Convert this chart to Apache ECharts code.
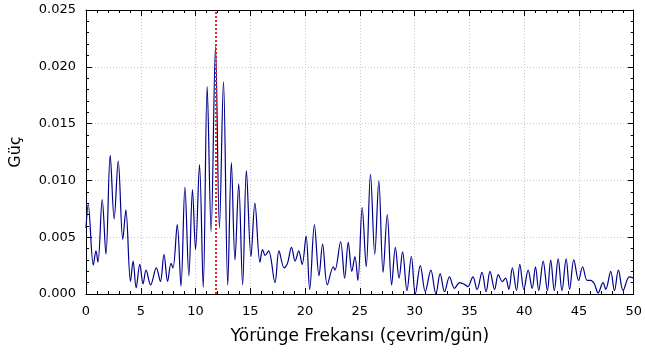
<!DOCTYPE html>
<html>
<head>
<meta charset="utf-8">
<script src="https://cdn.jsdelivr.net/npm/echarts@6/dist/echarts.min.js"></script>
<style>
    html, body { margin: 0; padding: 0; background: #fff; }
    #chart { width: 645px; height: 353px; }
</style>
</head>
<body>
<div id="chart"></div>
<script>
// frekans (çevrim/gün) ve güç değerleri, grafikten okunan tepe/çukur noktaları
const freqs = [
    0, 0.2, 0.67, 0.91, 1.09, 1.48, 1.82, 2.21, 2.57, 2.94, 3.36, 3.64, 4.06, 4.3, 4.58, 4.91,
    5.21, 5.48, 5.9, 6.42, 6.79, 7.12, 7.45, 7.76, 7.94, 8.33, 8.67, 9.03, 9.39, 9.72,
    10.0, 10.36, 10.7, 11.06, 11.42, 11.82, 12.18, 12.55, 12.94, 13.27, 13.6, 13.94, 14.3, 14.64,
    15.06, 15.42, 15.88, 16.12, 16.36, 16.67, 17.25, 17.62, 18.09, 18.39, 18.76, 19.09, 19.42, 19.73,
    20.09, 20.42, 20.85, 21.27, 21.6, 22.03, 22.58, 22.73, 23.24, 23.61, 23.94, 24.27, 24.55, 24.82,
    25.21, 25.58, 25.97, 26.36, 26.73, 27.12, 27.5, 27.9, 28.24, 28.58, 28.9, 29.3, 29.7,
    30.06, 30.52, 30.97, 31.48, 31.94, 32.33, 32.73, 33.18, 33.64, 34.12, 34.55, 34.85, 35.32, 35.7,
    36.15, 36.52, 36.88, 37.3, 37.64, 38.0, 38.3, 38.6, 38.92, 39.3, 39.6, 39.97, 40.36, 40.73,
    41.03, 41.33, 41.73, 42.12, 42.42, 42.75, 43.1, 43.45, 43.83, 44.15, 44.53, 44.97, 45.33, 45.75,
    46.07, 46.4, 46.75, 47.2, 47.45, 47.9, 48.24, 48.6, 49.03, 49.6, 50
];
const powers = [
    0.0058, 0.0079, 0.00255, 0.0038, 0.0028, 0.0083, 0.0035, 0.0122, 0.0066, 0.0117, 0.0048, 0.0074, 0.0011, 0.0029, 0.00055, 0.0026,
    0.0009, 0.0021, 0.0008, 0.0023, 0.0011, 0.0035, 0.0011, 0.0027, 0.0023, 0.0061, 0.0007, 0.0094, 0.0016, 0.0092,
    0.0039, 0.0114, 0.0006, 0.01825, 0.0055, 0.0218, 0.0058, 0.0187, 0.0008, 0.01156, 0.003, 0.0097, 0.0008, 0.01086,
    0.0033, 0.008, 0.0028, 0.0039, 0.0034, 0.0038, 0.001, 0.0038, 0.0023, 0.0027, 0.0041, 0.0029, 0.0038, 0.0026,
    0.0051, 0.0004, 0.0061, 0.0016, 0.0044, 0.0008, 0.0024, 0.0021, 0.0046, 0.0014, 0.00455, 0.002, 0.0033, 0.0012,
    0.0076, 0.0024, 0.01054, 0.0035, 0.00997, 0.0019, 0.007, 0.0008, 0.0041, 0.0014, 0.0037, 0.0003, 0.0033,
    0.0, 0.0025, 0.0002, 0.0021, 0.0, 0.0018, 0.0002, 0.0015, 0.0005, 0.001, 0.00085, 0.00065, 0.0015, 0.0004,
    0.0019, 0.0002, 0.002, 0.0004, 0.0017, 0.0011, 0.0014, 0.0004, 0.0023, 0.0003, 0.0026, 0.0004, 0.0021, 0.0005,
    0.0024, 0.0003, 0.0029, 0.0003, 0.003, 0.0003, 0.0031, 0.0003, 0.0031, 0.0004, 0.003, 0.0012, 0.0024, 0.0012,
    0.0012, 0.0009, 0.0001, 0.001, 0.0004, 0.002, 0.0003, 0.0021, 0.0003, 0.0015, 0.0014
];
const orbitFreq = 11.82; // kırmızı kesikli çizgi

const seriesData = freqs.map((f, i) => [f, powers[i]]);

const myChart = echarts.init(document.getElementById('chart'));

const tickStyle = { lineStyle: { color: '#000', width: 1 } };
// üst ve sağ çerçeve eksenleri (sadece çizgi + içe bakan tikler)
const frameAxis = {
    axisLine: { show: true, onZero: false, lineStyle: { color: '#000', width: 1 } },
    axisTick: { show: true, inside: true, length: 6, lineStyle: { color: '#000', width: 1 } },
    minorTick: { show: true, splitNumber: 5, length: 3, lineStyle: { color: '#000', width: 1 } },
    axisLabel: { show: false },
    splitLine: { show: false }
};

const option = {
    animation: false,
    textStyle: { fontFamily: 'DejaVu Sans' },
    grid: {
        left: 86,
        right: 9,
        top: 10,
        bottom: 59
    },
    xAxis: [
        {
            type: 'value',
            min: 0,
            max: 50,
            interval: 5,
            name: 'Yörünge Frekansı (çevrim/gün)',
            nameLocation: 'middle',
            nameGap: 34,
            nameTextStyle: { fontSize: 17, color: '#000' },
            axisLine: { onZero: false, lineStyle: { color: '#000', width: 1 } },
            axisTick: { inside: true, length: 6, ...tickStyle },
            minorTick: { show: true, splitNumber: 5, length: 3, ...tickStyle },
            axisLabel: { fontSize: 13, color: '#000', margin: 11 },
            splitLine: { show: true, lineStyle: { color: '#c8c8c8', type: [1, 2], width: 1 } }
        },
        { type: 'value', position: 'top', min: 0, max: 50, interval: 5, ...frameAxis }
    ],
    yAxis: [
        {
            type: 'value',
            min: 0,
            max: 0.025,
            interval: 0.005,
            name: 'Güç',
            nameLocation: 'middle',
            nameGap: 62,
            nameTextStyle: { fontSize: 16, color: '#000' },
            axisLine: { show: true, onZero: false, lineStyle: { color: '#000', width: 1 } },
            axisTick: { show: true, inside: true, length: 6, ...tickStyle },
            minorTick: { show: true, splitNumber: 5, length: 3, ...tickStyle },
            axisLabel: { fontSize: 13, color: '#000', margin: 10, formatter: v => v.toFixed(3) },
            splitLine: { show: true, lineStyle: { color: '#c8c8c8', type: [1, 2], width: 1 } }
        },
        { type: 'value', position: 'right', min: 0, max: 0.025, interval: 0.005, ...frameAxis }
    ],
    series: [
        {
            type: 'line',
            data: seriesData,
            smooth: 0.35,
            symbol: 'none',
            lineStyle: { color: '#00008b', width: 1.2 },
            markLine: {
                silent: true,
                symbol: 'none',
                label: { show: false },
                lineStyle: { color: '#e8221e', type: [2, 2], width: 2 },
                data: [{ xAxis: orbitFreq }]
            }
        }
    ]
};

myChart.setOption(option);
</script>
</body>
</html>
